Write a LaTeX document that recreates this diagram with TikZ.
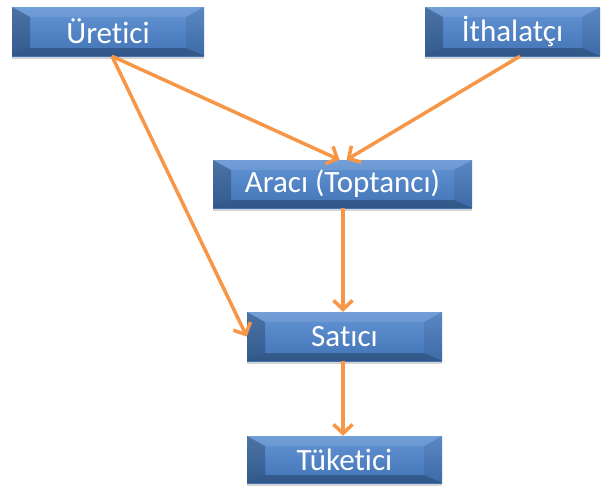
\documentclass[tikz,border=0pt]{standalone}
\usepackage{fontspec}
\setmainfont{Carlito}[RawFeature={-liga;-clig;-dlig}]
\usetikzlibrary{arrows.meta,shadows}
\definecolor{orangeC}{HTML}{F79646}
\definecolor{blueTop}{HTML}{6394D4}
\definecolor{blueBot}{HTML}{4274B6}
\def\ppb{path picture bounding box}
\begin{document}
\begin{tikzpicture}[x=1pt,y=-1pt,
  bx/.style={rectangle, inner sep=0pt, text=white,
    font=\fontsize{31}{36}\selectfont,
    top color=blueTop, bottom color=blueBot,
    drop shadow={opacity=0.35, shadow xshift=0pt, shadow yshift=-3pt},
    path picture={
      \coordinate (iNW) at ([xshift=18pt,yshift=-10pt]\ppb.north west);
      \coordinate (iNE) at ([xshift=-18pt,yshift=-10pt]\ppb.north east);
      \coordinate (iSW) at ([xshift=18pt,yshift=8pt]\ppb.south west);
      \coordinate (iSE) at ([xshift=-18pt,yshift=8pt]\ppb.south east);
      \fill[white,opacity=0.10] (\ppb.north west) -- (\ppb.north east) -- (iNE) -- (iNW) -- cycle;
      \fill[black,opacity=0.22] (\ppb.north west) -- (iNW) -- (iSW) -- (\ppb.south west) -- cycle;
      \fill[black,opacity=0.08] (\ppb.north east) -- (iNE) -- (iSE) -- (\ppb.south east) -- cycle;
      \fill[black,opacity=0.25] (\ppb.south west) -- (iSW) -- (iSE) -- (\ppb.south east) -- cycle;
    }},
  arr/.style={draw=orangeC, line width=3.5pt, -{Straight Barb[length=9pt,width=19pt,line width=3.5pt]}}]
\useasboundingbox (0,0) rectangle (609,488);
\node[bx, minimum width=192pt, minimum height=49pt] (ure) at (108,31.5) {Üretici};
\node[bx, minimum width=175pt, minimum height=49pt] (ith) at (512.5,31.5) {İthalatçı};
\node[bx, minimum width=259pt, minimum height=48pt] (ara) at (342.5,184) {Aracı (Toptancı)};
\node[bx, minimum width=195pt, minimum height=49pt] (sat) at (344.5,336.5) {Satıcı};
\node[bx, minimum width=195pt, minimum height=47pt] (tuk) at (344.5,459.5) {Tüketici};
\draw[arr] ([xshift=4pt]ure.south) -- ([xshift=-3pt]ara.north);
\draw[arr] ([xshift=7.5pt]ith.south) -- ([xshift=4pt]ara.north);
\draw[arr] ([xshift=4pt]ure.south) -- (sat.west);
\draw[arr] ([xshift=0.5pt]ara.south) -- ([xshift=-1.5pt]sat.north);
\draw[arr] ([xshift=-1.5pt]sat.south) -- ([xshift=-1.5pt]tuk.north);
\end{tikzpicture}
\end{document}
